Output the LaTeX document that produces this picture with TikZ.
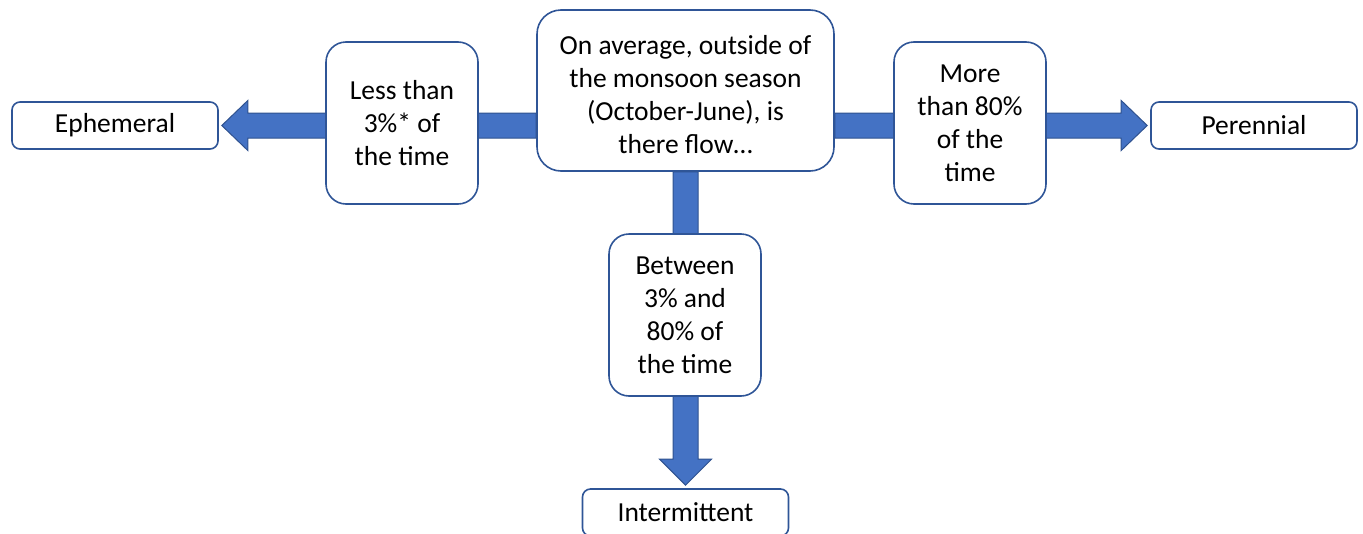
\documentclass[tikz,border=0pt]{standalone}
\usepackage{fontspec}
\setmainfont{Carlito}
\usetikzlibrary{calc,backgrounds}
\definecolor{boxline}{HTML}{2F5597}
\definecolor{arrfill}{HTML}{4472C4}
\definecolor{arrline}{HTML}{2F528F}
\begin{document}
\begin{tikzpicture}[x=1pt,y=-1pt,
  box/.style={draw=boxline,line width=1.6pt,fill=white,align=center,inner sep=0pt,
    font=\fontsize{27.5}{33}\selectfont},
  small/.style={box,rounded corners=8pt,minimum width=206pt,minimum height=47pt},
  mid/.style={box,rounded corners=20pt,minimum width=152pt,minimum height=162pt},
  big/.style={box,rounded corners=24pt,minimum width=297pt,minimum height=161pt},
  arr/.style={fill=arrfill,draw=arrline,line width=1pt,line join=miter}]
\useasboundingbox (0,0) rectangle (1363,533);
\node[small] (eph) at (115,125.5) {Ephemeral};
\node[mid] (less) at (402,123) {Less than\\3\%* of\\the time};
\node[big] (c) at (685.5,90.5) {\rule{0pt}{28pt}On average, outside of\\the monsoon season\\(October-June), is\\there flow\ldots};
\node[mid] (more) at (970,123) {More\\than 80\%\\of the\\time};
\node[small] (per) at (1254,125.5) {Perennial};
\node[mid] (betw) at (685,315) {Between\\3\% and\\80\% of\\the time};
\node[small] (inter) at (685.5,512.5) {Intermittent};
\begin{scope}[on background layer]
\draw[arr] let \p1=(eph.east), \p2=(c.west) in
  (\x2,\y1+12.5pt) -- (\x1+29pt,\y1+12.5pt) -- (\x1+29pt,\y1+25pt) -- (\x1+3pt,\y1)
  -- (\x1+29pt,\y1-25pt) -- (\x1+29pt,\y1-12.5pt) -- (\x2,\y1-12.5pt) -- cycle;
\draw[arr] let \p1=(per.west), \p2=(c.east) in
  (\x2,\y1+12.5pt) -- (\x1-29pt,\y1+12.5pt) -- (\x1-29pt,\y1+25pt) -- (\x1-3pt,\y1)
  -- (\x1-29pt,\y1-25pt) -- (\x1-29pt,\y1-12.5pt) -- (\x2,\y1-12.5pt) -- cycle;
\draw[arr] let \p1=(inter.north), \p2=(c.south) in
  (\x1-12.5pt,\y2) -- (\x1-12.5pt,\y1+29pt) -- (\x1-26pt,\y1+29pt) -- (\x1,\y1+3pt)
  -- (\x1+26pt,\y1+29pt) -- (\x1+12.5pt,\y1+29pt) -- (\x1+12.5pt,\y2) -- cycle;
\end{scope}
\end{tikzpicture}
\end{document}
